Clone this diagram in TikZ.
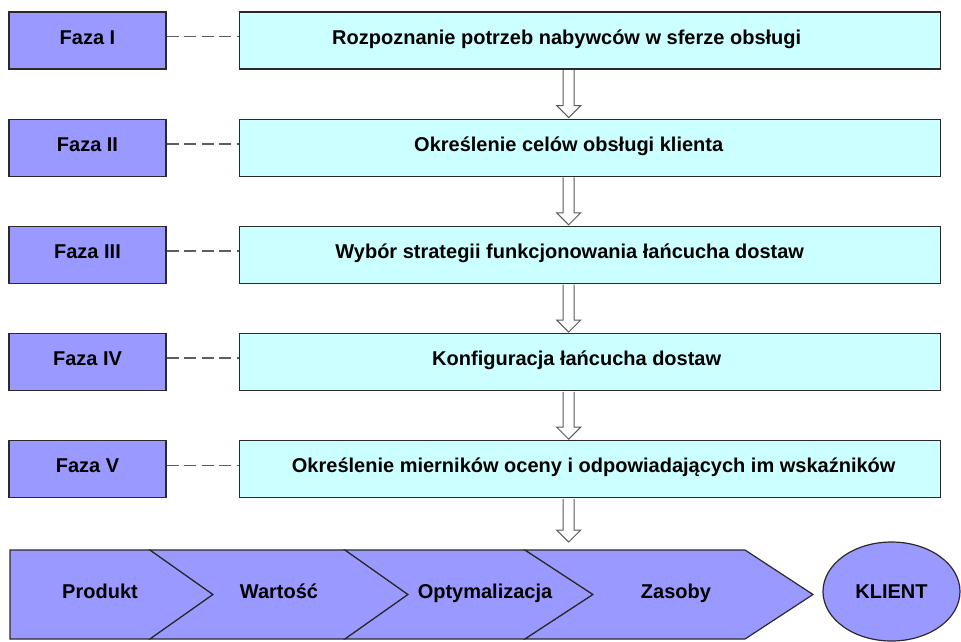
\documentclass[tikz,border=0pt]{standalone}
\usepackage{fontspec}
\setmainfont{Liberation Sans}
\usetikzlibrary{shapes.geometric, positioning, calc}
\definecolor{fazaFill}{HTML}{9999FF}
\definecolor{etapFill}{HTML}{CCFFFF}
\definecolor{ramka}{HTML}{2A2A2A}
\definecolor{szaryStrzalka}{HTML}{5A5A5A}
\definecolor{szaryLinia}{HTML}{5E5E5E}
\newcommand{\tekst}{\bfseries\fontsize{20}{24}\selectfont}
% pusta strzalka blokowa: od wezla #1 do grotu #2
\newcommand{\strzalkaBlok}[2]{%
  \draw[strzalka] let \p1=(#1), \p2=(#2) in
    (\x1-5.5pt,\y1-0.6pt) -- (\x1-5.5pt,\y2+12pt) -- (\x1-12pt,\y2+12pt) -- (\x1,\y2)
    -- (\x1+12pt,\y2+12pt) -- (\x1+5.5pt,\y2+12pt) -- (\x1+5.5pt,\y1-0.6pt);}

\begin{document}
\begin{tikzpicture}[x=1pt, y=-1pt,
        napis/.style={font=\tekst, inner sep=0pt, text height=15pt, text depth=8pt},
        faza/.style={napis, draw=ramka, fill=fazaFill, line width=1.2pt,
            minimum width=157pt, minimum height=57pt},
        etap/.style={draw=ramka, fill=etapFill, line width=1.2pt,
            minimum width=701pt, minimum height=57pt, inner sep=0pt},
        przerywana/.style={szaryLinia, line width=1.6pt, dash pattern=on 12pt off 5.5pt},
        strzalka/.style={draw=szaryStrzalka, fill=white, line width=1pt, line join=miter},
        szewron/.style={draw=ramka, fill=fazaFill, line width=1.2pt, line join=miter},
        klient/.style={napis, text height=18pt, text depth=5pt, ellipse, draw=ramka,
            fill=fazaFill, line width=1.2pt, minimum width=137pt, minimum height=99pt}
    ]
        \useasboundingbox (0,0) rectangle (961,641);

        \node[faza] (f1) at (87.5,40.5) {Faza I};
        \node[faza, below=49pt of f1] (f2) {Faza II};
        \node[faza, below=49pt of f2] (f3) {Faza III};
        \node[faza, below=49pt of f3] (f4) {Faza IV};
        \node[faza, below=49pt of f4] (f5) {Faza V};

        \node[etap, right=72pt of f1, label={[napis, xshift=-23pt]center:Rozpoznanie potrzeb nabywców w sferze obsługi}] (e1) {};
        \node[etap, right=72pt of f2, label={[napis, xshift=-21pt]center:Określenie celów obsługi klienta}] (e2) {};
        \node[etap, right=72pt of f3, label={[napis, xshift=-20pt]center:Wybór strategii funkcjonowania łańcucha dostaw}] (e3) {};
        \node[etap, right=72pt of f4, label={[napis, xshift=-13pt]center:Konfiguracja łańcucha dostaw}] (e4) {};
        \node[etap, right=72pt of f5, label={[napis, xshift=4pt]center:Określenie mierników oceny i odpowiadających im wskaźników}] (e5) {};

        \draw[przerywana] ([yshift=4pt]f1.east) -- ([yshift=4pt]e1.west);
        \draw[przerywana] ([yshift=4pt]f2.east) -- ([yshift=4pt]e2.west);
        \draw[przerywana] ([yshift=4pt]f3.east) -- ([yshift=4pt]e3.west);
        \draw[przerywana] ([yshift=4pt]f4.east) -- ([yshift=4pt]e4.west);
        \draw[przerywana] ([yshift=4pt]f5.east) -- ([yshift=4pt]e5.west);

        % lancuch: produkt - wartosc - optymalizacja - zasoby
        \filldraw[szewron] (10,550) -- (150,550) -- (213,594.5) -- (150,639) -- (10,639) -- cycle;
        \filldraw[szewron] (150,550) -- (345,550) -- (408,594.5) -- (345,639) -- (150,639) -- (213,594.5) -- cycle;
        \filldraw[szewron] (345,550) -- (525,550) -- (593,594.5) -- (525,639) -- (345,639) -- (408,594.5) -- cycle;
        \filldraw[szewron] (525,550) -- (745,550) -- (813,594.5) -- (745,639) -- (525,639) -- (593,594.5) -- cycle;
        \node[napis] (produkt) at (100,594.5) {Produkt};
        \node[napis] (wartosc) at (279,594.5) {Wartość};
        \node[napis] (optym) at (485,594.5) {Optymalizacja};
        \node[napis] (zasoby) at (676,594.5) {Zasoby};
        \node[klient] (klient) at (891.5,591.5) {KLIENT};

        \coordinate (grot) at (567.5,542);
        \strzalkaBlok{$(e1.south)+(-21,0)$}{$(e2.north)+(-21,-1)$}
        \strzalkaBlok{$(e2.south)+(-21,0)$}{$(e3.north)+(-21,-1)$}
        \strzalkaBlok{$(e3.south)+(-21,0)$}{$(e4.north)+(-21,-1)$}
        \strzalkaBlok{$(e4.south)+(-21,0)$}{$(e5.north)+(-21,-1)$}
        \strzalkaBlok{$(e5.south)+(-21,0)$}{grot}
    \end{tikzpicture}
\end{document}
